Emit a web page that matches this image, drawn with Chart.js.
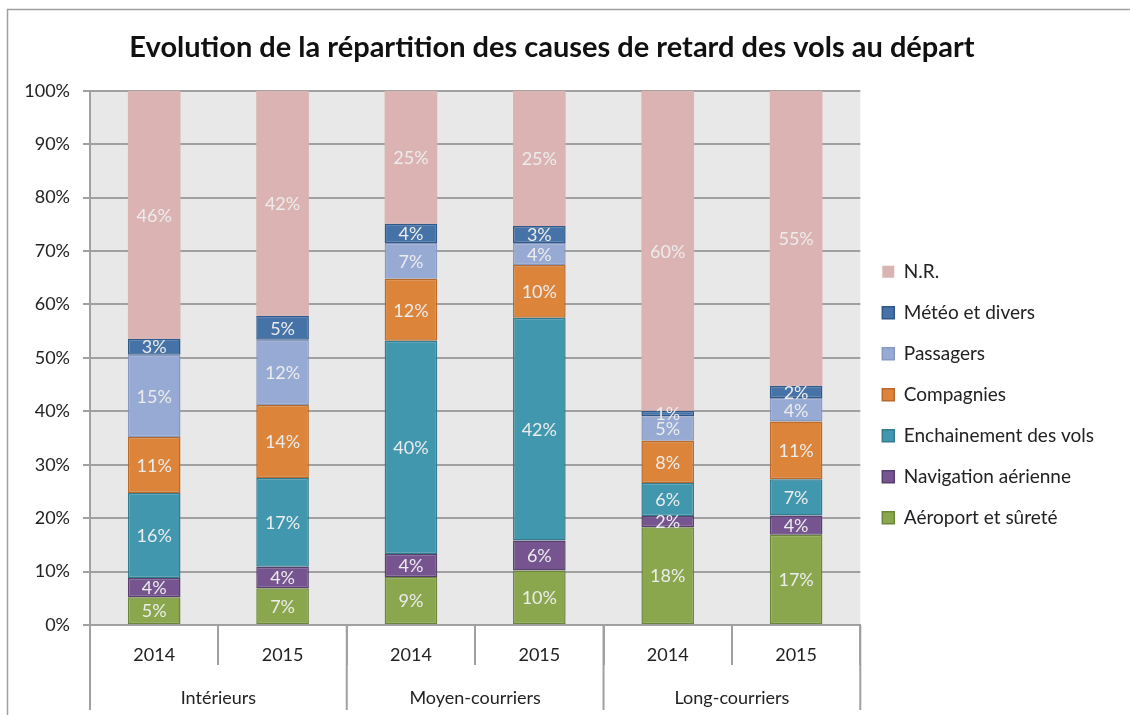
<!DOCTYPE html>
<html>
<head>
<meta charset="utf-8">
<script src="https://cdn.jsdelivr.net/npm/chart.js@4/dist/chart.umd.min.js"></script>
<style>
  html, body { margin: 0; padding: 0; background: #fff; }
  #wrap { width: 1130px; height: 715px; }
</style>
</head>
<body>
<div id="wrap"><canvas id="graph" width="1130" height="715"></canvas></div>
<script>
// categories
const years = ['2014', '2015', '2014', '2015', '2014', '2015']
const groups = ['Intérieurs', 'Moyen-courriers', 'Long-courriers']

// series (share of delays, %), bottom to top
const aeroport     = [5.2, 6.9, 9.0, 10.2, 18.3, 16.9]
const navigation   = [3.6, 4.0, 4.3, 5.6, 2.1, 3.6]
const enchainement = [15.9, 16.6, 39.9, 41.7, 6.2, 6.8]
const compagnies   = [10.5, 13.7, 11.6, 9.9, 7.9, 10.8]
const passagers    = [15.4, 12.2, 6.7, 4.1, 4.6, 4.4]
const meteo        = [3.0, 4.5, 3.6, 3.2, 1.0, 2.3]
const nr           = [46.4, 42.1, 24.9, 25.3, 59.9, 55.2]

const font = { family: 'Lato', size: 18 }
const gridColor = '#a0a0a0'

// white background, outer frame and grey plot area
const frame = {
  id: 'frame',
  beforeDraw(chart) {
    let ctx = chart.ctx
    let a = chart.chartArea
    ctx.save()
    ctx.fillStyle = '#fff'
    ctx.fillRect(0, 0, chart.width, chart.height)
    ctx.strokeStyle = gridColor
    ctx.lineWidth = 1.5
    ctx.strokeRect(7.5, 9.5, chart.width + 10, chart.height + 10)
    ctx.fillStyle = '#e8e8e8'
    ctx.fillRect(a.left, a.top, a.right - a.left, a.bottom - a.top)
    ctx.restore()
  }
}

// long separators between the groups of the category axis
const groupLines = {
  id: 'groupLines',
  afterDraw(chart) {
    let ctx = chart.ctx
    let a = chart.chartArea
    let x = chart.scales.x
    let edges = [a.left]
    for (let g = 1; g < groups.length; g++) {
      edges.push((x.getPixelForValue(2 * g - 1) + x.getPixelForValue(2 * g)) / 2)
    }
    edges.push(a.right)
    ctx.save()
    ctx.strokeStyle = gridColor
    ctx.lineWidth = 2
    ctx.beginPath()
    for (let e of edges) {
      ctx.moveTo(e, a.bottom)
      ctx.lineTo(e, chart.scales.x2.bottom - 5)
    }
    ctx.stroke()
    ctx.restore()
  }
}

// value labels in the middle of each segment
const segLabels = {
  id: 'segLabels',
  afterDatasetsDraw(chart) {
    let ctx = chart.ctx
    ctx.save()
    ctx.font = '18px Lato'
    ctx.fillStyle = '#ececec'
    ctx.textAlign = 'center'
    ctx.textBaseline = 'middle'
    chart.data.datasets.forEach((ds, i) => {
      chart.getDatasetMeta(i).data.forEach((bar, j) => {
        let p = bar.getProps(['x', 'y', 'base'], true)
        ctx.fillText(Math.round(ds.data[j]) + '%', p.x, (p.y + p.base) / 2 + 1)
      })
    })
    ctx.restore()
  }
}

function serie(label, data, bg, border) {
  return {
    label: label,
    data: data,
    backgroundColor: bg,
    borderColor: border,
    borderWidth: border ? 1.5 : 0,
    borderSkipped: false
  }
}

let ctx = document.getElementById('graph').getContext('2d')
new Chart(ctx, {
  type: 'bar',
  data: {
    labels: years,
    datasets: [
      serie('Aéroport et sûreté', aeroport, '#8aa74d', '#6c8639'),
      serie('Navigation aérienne', navigation, '#76548f', '#58406e'),
      serie('Enchainement des vols', enchainement, '#4097ae', '#337c90'),
      serie('Compagnies', compagnies, '#dc843a', '#b9692a'),
      serie('Passagers', passagers, '#97aad3', '#8599c2'),
      serie('Météo et divers', meteo, '#4572a7', '#2f5787'),
      serie('N.R.', nr, '#dcb3b3', null)
    ]
  },
  options: {
    responsive: false,
    animation: false,
    layout: { padding: { left: 0, right: 26, top: 0, bottom: 0 } },
    datasets: { bar: { categoryPercentage: 1, barPercentage: 0.41 } },
    plugins: {
      title: {
        display: true,
        text: 'Evolution de la répartition des causes de retard des vols au départ',
        font: { family: 'Lato', size: 29, weight: 'bold' },
        color: '#111',
        padding: { top: 30, bottom: 26 }
      },
      legend: {
        position: 'right',
        reverse: true,
        title: { display: true, text: '', padding: 30 },
        labels: { boxWidth: 12, boxHeight: 12, padding: 22, font: { family: 'Lato', size: 19 }, color: '#222' }
      },
      tooltip: { enabled: false }
    },
    scales: {
      x: {
        stacked: true,
        weight: 0,
        grid: { offset: true, drawOnChartArea: false, tickLength: 40, color: gridColor, lineWidth: 2 },
        border: { color: gridColor, width: 2 },
        ticks: { font: font, color: '#222', padding: -21 },
        afterFit(s) { s.height = 40 }
      },
      x2: {
        type: 'category',
        labels: groups,
        position: 'bottom',
        offset: true,
        weight: 1,
        grid: { display: false },
        border: { display: false },
        ticks: { font: font, color: '#222', padding: 14 },
        afterFit(s) { s.height = 50 }
      },
      y: {
        stacked: true,
        min: 0,
        max: 100,
        ticks: { stepSize: 10, callback: v => v + '%', padding: 13, font: font, color: '#222' },
        grid: { color: gridColor, lineWidth: 2, tickLength: 7 },
        border: { color: gridColor, width: 2 },
        afterFit(s) { s.width = 90 }
      }
    }
  },
  plugins: [frame, groupLines, segLabels]
})
</script>
</body>
</html>
